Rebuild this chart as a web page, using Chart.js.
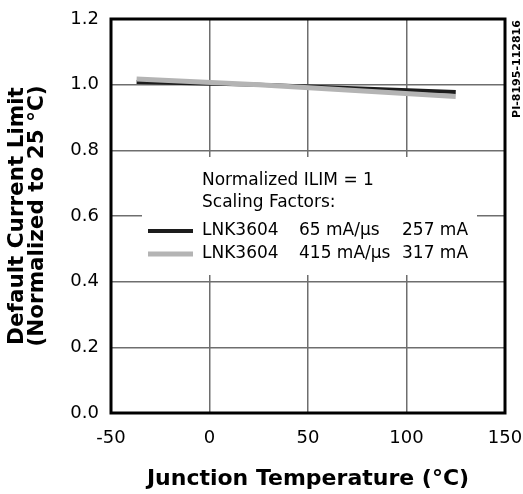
<!DOCTYPE html>
<html><head><meta charset="utf-8">
<script src="https://cdn.jsdelivr.net/npm/chart.js@4.4.0/dist/chart.umd.min.js"></script>
<style>html,body{margin:0;padding:0;background:#fff}#wrap{width:523px;height:494px}</style>
</head><body><div id="wrap"><canvas id="c" width="523" height="494"></canvas></div>
<script>
const temperatures = [-37, 25, 125];
const series65 = [1.008, 1.0, 0.978];
const series415 = [1.017, 1.0, 0.964];
const xTicks = [-50, 0, 50, 100, 150];
const yTicks = [0.0, 0.2, 0.4, 0.6, 0.8, 1.0, 1.2];
const legendTitle = ["Normalized ILIM = 1", "Scaling Factors:"];
const legendRows = [
  ["LNK3604", "65 mA/\u00b5s", "257 mA"],
  ["LNK3604", "415 mA/\u00b5s", "317 mA"]
];
const xTitle = "Junction Temperature (\u00b0C)";
const yTitle = ["Default Current Limit", "(Normalized to 25 \u00b0C)"];
const docId = "PI-8195-112816";

const FONT = "'DejaVu Sans', Verdana, sans-serif";
const colors = ["#1c1c1c", "#b4b4b4"];

const toPts = vals => temperatures.map((t, i) => ({x: t, y: vals[i]}));

const overlay = {
  id: 'overlay',
  beforeDatasetsDraw(chart) {
    const ctx = chart.ctx;
    ctx.save();
    ctx.fillStyle = '#fff';
    ctx.fillRect(142, 157, 335, 118);
    ctx.restore();
  },
  afterDatasetsDraw(chart) {
    const ctx = chart.ctx, a = chart.chartArea;
    ctx.save();
    ctx.strokeStyle = '#000';
    ctx.lineWidth = 3;
    ctx.strokeRect(a.left, a.top, a.right - a.left, a.bottom - a.top);
    // legend
    ctx.fillStyle = '#000';
    ctx.font = "17px " + FONT;
    ctx.textBaseline = 'middle';
    ctx.textAlign = 'left';
    ctx.fillText(legendTitle[0], 202, 181);
    ctx.fillText(legendTitle[1], 202, 203);
    const rowsY = [231, 254];
    const cols = [202, 299, 402];
    legendRows.forEach((r, i) => {
      ctx.strokeStyle = colors[i];
      ctx.lineWidth = i === 0 ? 4 : 5;
      ctx.beginPath();
      ctx.moveTo(148, rowsY[i]);
      ctx.lineTo(193, rowsY[i]);
      ctx.stroke();
      r.forEach((t, j) => ctx.fillText(t, cols[j], rowsY[i]));
    });
    // doc id
    ctx.translate(517, 69);
    ctx.rotate(-Math.PI / 2);
    ctx.textAlign = 'center';
    ctx.font = "bold 11px " + FONT;
    ctx.fillText(docId, 0, 0);
    ctx.restore();
  }
};

new Chart(document.getElementById('c'), {
  type: 'scatter',
  data: {
    datasets: [
      {label: legendRows[0].join(' '), data: toPts(series65), showLine: true, borderColor: colors[0], borderWidth: 4, pointRadius: 0, order: 2},
      {label: legendRows[1].join(' '), data: toPts(series415), showLine: true, borderColor: colors[1], borderWidth: 5, pointRadius: 0, order: 1}
    ]
  },
  options: {
    responsive: false,
    animation: false,
    layout: {padding: {left: 8, right: 18, top: 19, bottom: 2}},
    plugins: {legend: {display: false}, tooltip: {enabled: false}},
    scales: {
      x: {
        type: 'linear', min: -50, max: 150,
        afterBuildTicks: s => { s.ticks = xTicks.map(v => ({value: v})); },
        ticks: {color: '#000', font: {family: FONT, size: 18}, padding: 15, callback: v => String(v)},
        grid: {color: '#6e6e6e', lineWidth: 1.5, drawTicks: false},
        border: {display: false},
        title: {display: true, text: xTitle, color: '#000', font: {family: FONT, size: 22, weight: 'bold'}, padding: {top: 0, bottom: 0}},
        afterFit: s => { s.height = 79; s.paddingRight = 0; s.paddingLeft = 0; }
      },
      y: {
        min: 0, max: 1.2,
        afterBuildTicks: s => { s.ticks = yTicks.map(v => ({value: v})); },
        ticks: {color: '#000', font: {family: FONT, size: 18}, padding: 12, callback: v => v.toFixed(1)},
        grid: {color: '#6e6e6e', lineWidth: 1.5, drawTicks: false},
        border: {display: false},
        title: {display: true, text: yTitle, color: '#000', font: {family: FONT, size: 21.5, weight: 'bold', lineHeight: 0.9}, padding: {top: 0, bottom: 4}},
        afterFit: s => { s.width = 103; s.paddingTop = 0; s.paddingBottom = 0; }
      }
    }
  },
  plugins: [overlay]
});
</script>
</body></html>
